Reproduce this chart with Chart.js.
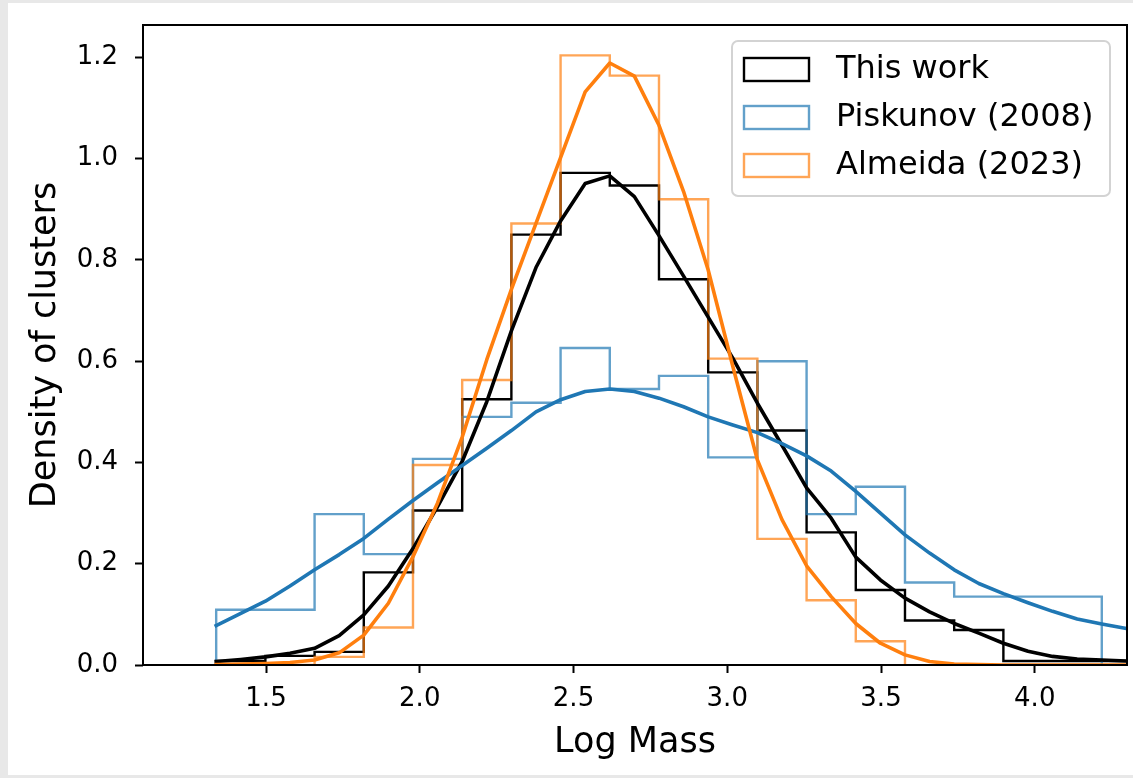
<!DOCTYPE html>
<html>
<head>
<meta charset="utf-8">
<script src="https://cdn.jsdelivr.net/npm/chart.js@4"></script>
<style>
  html, body { margin: 0; padding: 0; background: #e8e8e8; }
  #wrap { position: absolute; left: 8px; top: 3px; width: 1125px; height: 772px; background: #fff; }
  canvas { display: block; }
</style>
</head>
<body>
<div id="wrap"><canvas id="chart" width="1125" height="772"></canvas></div>
<script>
// ---- data ----
const binEdges = [1.338, 1.498, 1.658, 1.818, 1.978, 2.138, 2.298, 2.458, 2.618, 2.778,
                  2.938, 3.098, 3.258, 3.418, 3.578, 3.738, 3.898, 4.058, 4.218, 4.378];

const thisWorkHist = [0.008, 0.018, 0.026, 0.183, 0.305, 0.525, 0.850, 0.972, 0.947, 0.762,
                      0.578, 0.463, 0.262, 0.148, 0.088, 0.069, 0.008, 0.008, 0.008];
const piskunovHist = [0.109, 0.109, 0.298, 0.219, 0.407, 0.490, 0.518, 0.626, 0.545, 0.571,
                      0.410, 0.600, 0.298, 0.352, 0.163, 0.135, 0.135, 0.135];
const almeidaHist  = [0, 0, 0.016, 0.074, 0.395, 0.563, 0.872, 1.204, 1.164, 0.920,
                      0.605, 0.249, 0.128, 0.047];

const kdeGrid = [1.338, 1.418, 1.498, 1.578, 1.658, 1.738, 1.818, 1.898, 1.978, 2.058,
                 2.138, 2.218, 2.298, 2.378, 2.458, 2.538, 2.618, 2.698, 2.778, 2.858,
                 2.938, 3.018, 3.098, 3.178, 3.258, 3.338, 3.418, 3.498, 3.578, 3.658,
                 3.738, 3.818, 3.898, 3.978, 4.058, 4.138, 4.218, 4.298, 4.378];

const thisWorkKde = [0.007, 0.011, 0.016, 0.023, 0.033, 0.058, 0.099, 0.156, 0.230, 0.313,
                     0.402, 0.520, 0.660, 0.785, 0.877, 0.951, 0.966, 0.925, 0.848, 0.768,
                     0.687, 0.606, 0.517, 0.434, 0.350, 0.290, 0.213, 0.168, 0.132, 0.105,
                     0.082, 0.063, 0.043, 0.027, 0.017, 0.012, 0.010, 0.008, 0.007];
const piskunovKde = [0.078, 0.102, 0.126, 0.156, 0.188, 0.218, 0.250, 0.288, 0.325, 0.360,
                     0.394, 0.428, 0.463, 0.500, 0.524, 0.540, 0.545, 0.540, 0.527, 0.510,
                     0.490, 0.474, 0.459, 0.437, 0.413, 0.383, 0.343, 0.300, 0.257, 0.221,
                     0.188, 0.161, 0.141, 0.123, 0.106, 0.091, 0.081, 0.072, 0.064];
const almeidaKde  = [0.001, 0.002, 0.003, 0.005, 0.010, 0.024, 0.059, 0.122, 0.214, 0.320,
                     0.450, 0.603, 0.742, 0.872, 1.002, 1.132, 1.189, 1.163, 1.066, 0.935,
                     0.780, 0.590, 0.405, 0.287, 0.196, 0.135, 0.082, 0.043, 0.020, 0.007,
                     0.002, 0.001, 0, 0, 0, 0, 0, 0, 0];

const seriesLabels = ["This work", "Piskunov (2008)", "Almeida (2023)"];
const xTicks = [1.5, 2.0, 2.5, 3.0, 3.5, 4.0];
const yTicks = [0.0, 0.2, 0.4, 0.6, 0.8, 1.0, 1.2];

// ---- helpers ----
const BLACK = "#000000";
const BLUE = "#1f77b4";
const ORANGE = "#ff7f0e";
const rgba = (hex, a) => {
  const n = parseInt(hex.slice(1), 16);
  return `rgba(${(n >> 16) & 255},${(n >> 8) & 255},${n & 255},${a})`;
};

// histogram outline (histtype="step") from edges + heights
const stepPoints = (vals) => {
  const pts = [{ x: binEdges[0], y: 0 }];
  vals.forEach((v, i) => pts.push({ x: binEdges[i], y: v }));
  pts.push({ x: binEdges[vals.length], y: 0 });
  return pts;
};
const curve = (ys) => kdeGrid.map((x, i) => ({ x, y: ys[i] }));

const FONT = "'DejaVu Sans', 'Liberation Sans', sans-serif";

const histDs = (label, vals, color, order) => ({
  label, data: stepPoints(vals), stepped: "before",
  borderColor: color, borderWidth: 2.4, pointRadius: 0, fill: false,
  borderJoinStyle: "miter", order, isHist: true
});
const kdeDs = (vals, color, order) => ({
  label: "", data: curve(vals),
  borderColor: color, borderWidth: 3.6, pointRadius: 0, fill: false,
  tension: 0, borderJoinStyle: "round", borderCapStyle: "square", order
});

// frame around plot area
const framePlugin = {
  id: "frame",
  afterDatasetsDraw(chart) {
    const { ctx, chartArea: a } = chart;
    ctx.save();
    ctx.strokeStyle = "#000";
    ctx.lineWidth = 2;
    ctx.strokeRect(a.left, a.top, a.right - a.left, a.bottom - a.top);
    ctx.restore();
  }
};

// matplotlib-like legend box in the upper right
const legendPlugin = {
  id: "mplLegend",
  afterDraw(chart) {
    const { ctx, chartArea: a } = chart;
    const hist = chart.data.datasets.filter(d => d.isHist).sort((p, q) => q.order - p.order);
    const w = 378, h = 155;
    const x0 = a.right - 17 - w, y0 = a.top + 16;
    ctx.save();
    ctx.beginPath();
    ctx.roundRect(x0, y0, w, h, 6);
    ctx.fillStyle = "rgba(255,255,255,0.8)";
    ctx.fill();
    ctx.strokeStyle = "#d3d3d3";
    ctx.lineWidth = 2;
    ctx.stroke();
    ctx.font = `32px ${FONT}`;
    ctx.textBaseline = "middle";
    hist.forEach((d, i) => {
      const cy = y0 + 28 + i * 48;
      ctx.strokeStyle = d.borderColor;
      ctx.lineWidth = 2.4;
      ctx.strokeRect(x0 + 12, cy - 11, 65, 23);
      ctx.fillStyle = "#000";
      ctx.fillText(d.label, x0 + 104, cy + 1);
    });
    ctx.restore();
  }
};

const setTicks = (vals) => (scale) => { scale.ticks = vals.map(v => ({ value: v })); };

new Chart(document.getElementById("chart"), {
  type: "line",
  data: {
    datasets: [
      histDs(seriesLabels[0], thisWorkHist, BLACK, 6),
      histDs(seriesLabels[1], piskunovHist, rgba(BLUE, 0.7), 5),
      histDs(seriesLabels[2], almeidaHist, rgba(ORANGE, 0.7), 4),
      kdeDs(thisWorkKde, BLACK, 3),
      kdeDs(piskunovKde, BLUE, 2),
      kdeDs(almeidaKde, ORANGE, 1)
    ]
  },
  options: {
    responsive: false,
    animation: false,
    devicePixelRatio: 1,
    layout: { padding: { top: 22, right: 6, left: 0, bottom: 0 } },
    plugins: { legend: { display: false }, tooltip: { enabled: false } },
    scales: {
      x: {
        type: "linear", min: 1.1, max: 4.3,
        afterBuildTicks: setTicks(xTicks),
        afterFit: (s) => { s.height = 110; s.paddingLeft = 0; s.paddingRight = 0; },
        grid: { display: true, drawOnChartArea: false, drawTicks: true, tickLength: 8, tickWidth: 2, tickColor: "#000" },
        border: { display: false },
        ticks: { color: "#000", font: { family: FONT, size: 26 }, padding: 11, maxRotation: 0,
                 callback: (v) => Number(v).toFixed(1) },
        title: { display: true, text: "Log Mass", color: "#000", font: { family: FONT, size: 35 }, padding: { top: 4, bottom: 11 } }
      },
      y: {
        type: "linear", min: 0, max: 1.264,
        afterBuildTicks: setTicks(yTicks),
        afterFit: (s) => { s.width = 135; s.paddingTop = 0; s.paddingBottom = 0; },
        grid: { display: true, drawOnChartArea: false, drawTicks: true, tickLength: 8, tickWidth: 2, tickColor: "#000" },
        border: { display: false },
        ticks: { color: "#000", font: { family: FONT, size: 26 }, padding: 17,
                 callback: (v) => Number(v).toFixed(1) },
        title: { display: true, text: "Density of clusters", color: "#000", font: { family: FONT, size: 35 }, padding: { top: 17, bottom: 8 } }
      }
    }
  },
  plugins: [framePlugin, legendPlugin]
});
</script>
</body>
</html>
